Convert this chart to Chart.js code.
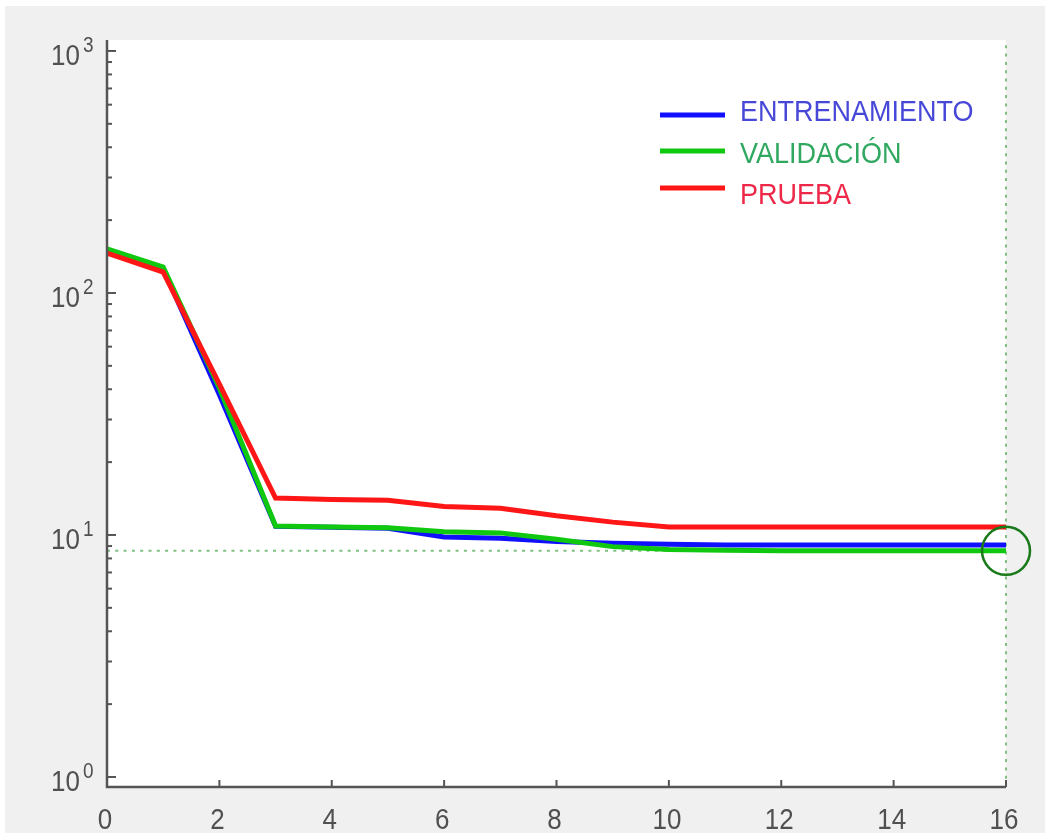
<!DOCTYPE html>
<html>
<head>
<meta charset="utf-8">
<script src="https://cdn.jsdelivr.net/npm/chart.js@4.4.0/dist/chart.umd.min.js"></script>
<style>
body { margin: 0; background: #fff; }
canvas { display: block; }
</style>
</head>
<body>
<canvas id="myChart" width="1045" height="833"></canvas>
<script>
// epochs and performance (log scale)
var epochs = [0, 1, 2, 3, 4, 5, 6, 7, 8, 9, 10, 11, 12, 13, 14, 15, 16];
var entrenamiento = [150, 126, 38, 10.85, 10.75, 10.65, 9.8, 9.7, 9.4, 9.25, 9.15, 9.1, 9.1, 9.1, 9.1, 9.1, 9.1];
var validacion = [152, 128, 40.5, 10.9, 10.8, 10.7, 10.3, 10.2, 9.6, 8.95, 8.7, 8.65, 8.6, 8.6, 8.6, 8.6, 8.6];
var prueba = [146, 122, 42, 14.2, 14.0, 13.9, 13.1, 12.9, 12.0, 11.3, 10.8, 10.8, 10.8, 10.8, 10.8, 10.8, 10.8];
var seriesNames = ['ENTRENAMIENTO', 'VALIDACIÓN', 'PRUEBA'];
var xTicks = [0, 2, 4, 6, 8, 10, 12, 14, 16];
var yDecades = [0, 1, 2, 3];
var bestEpoch = 16;
var bestValue = 8.6;

var yMin = 0.909, yMax = 1110;

function pts(ys) {
    return epochs.map(function (e, i) { return { x: e, y: ys[i] }; });
}

var axisColor = '#555555';
var labelColor = '#505050';
var fontFamily = '"Liberation Sans", Arial, sans-serif';

// text in the reference looks a little stretched vertically
function tallText(c, txt, x, y, size, align) {
    c.save();
    c.translate(x, y);
    c.scale(1, 1.12);
    c.font = size + 'px ' + fontFamily;
    c.textAlign = align;
    c.textBaseline = 'middle';
    c.fillText(txt, 0, 0);
    c.restore();
}

var matlabAxes = {
    id: 'matlabAxes',
    beforeDraw: function (chart) {
        var c = chart.ctx, a = chart.chartArea;
        c.save();
        c.fillStyle = '#ffffff';
        c.fillRect(0, 0, chart.width, chart.height);
        c.fillStyle = '#f0f0f0';
        c.fillRect(5, 6, chart.width - 5, chart.height - 6);
        c.fillStyle = '#ffffff';
        c.fillRect(a.left, a.top, a.right - a.left, a.bottom - a.top);
        c.restore();
    },
    afterDraw: function (chart) {
        var c = chart.ctx, a = chart.chartArea;
        var xs = chart.scales.x, ys = chart.scales.y;
        c.save();
        // axis lines
        c.strokeStyle = axisColor;
        c.lineWidth = 2.5;
        c.beginPath();
        c.moveTo(a.left, a.top);
        c.lineTo(a.left, a.bottom);
        c.lineTo(a.right, a.bottom);
        c.stroke();

        // y ticks, major and minor
        c.lineWidth = 2;
        yDecades.forEach(function (d) {
            for (var m = 1; m <= 9; m++) {
                var v = m * Math.pow(10, d);
                if (v > yMax) break;
                var py = ys.getPixelForValue(v);
                c.beginPath();
                c.moveTo(a.left, py);
                c.lineTo(a.left + (m === 1 ? 9 : 5), py);
                c.stroke();
            }
        });
        // x ticks
        xTicks.forEach(function (t) {
            var px = xs.getPixelForValue(t);
            c.beginPath();
            c.moveTo(px, a.bottom);
            c.lineTo(px, a.bottom - 7);
            c.stroke();
        });

        // labels
        c.fillStyle = labelColor;
        xTicks.forEach(function (t) {
            tallText(c, String(t), xs.getPixelForValue(t) - 2, 821, 26, 'center');
        });
        yDecades.forEach(function (d) {
            var py = ys.getPixelForValue(Math.pow(10, d));
            tallText(c, '10', 80, py + 6, 26, 'right');
            tallText(c, String(d), 83, py - 5, 19, 'left');
        });

        // legend
        var lx = 660, tx = 740;
        var lineY = [115, 151, 188], textY = [113, 155, 196];
        var textColors = ['#4848d8', '#30a860', '#ee2848'];
        chart.data.datasets.slice(0, 3).forEach(function (ds, i) {
            c.strokeStyle = ds.borderColor;
            c.lineWidth = 5;
            c.beginPath();
            c.moveTo(lx, lineY[i]);
            c.lineTo(lx + 65, lineY[i]);
            c.stroke();
            c.fillStyle = textColors[i];
            tallText(c, ds.label, tx, textY[i], 27, 'left');
        });
        c.restore();
    }
};

var ctx = document.getElementById('myChart').getContext('2d');
var myChart = new Chart(ctx, {
    type: 'line',
    data: {
        datasets: [{
            label: seriesNames[0],
            data: pts(entrenamiento),
            borderColor: '#1010ff',
            borderWidth: 5,
            pointRadius: 0,
            order: 3
        }, {
            label: seriesNames[1],
            data: pts(validacion),
            borderColor: '#10c810',
            borderWidth: 5,
            pointRadius: 0,
            order: 2
        }, {
            label: seriesNames[2],
            data: pts(prueba),
            borderColor: '#ff1616',
            borderWidth: 5,
            pointRadius: 0,
            order: 1
        }, {
            label: 'best-h',
            data: [{ x: epochs[0], y: bestValue }, { x: bestEpoch, y: bestValue }],
            borderColor: '#80c080',
            borderWidth: 2,
            borderDash: [3, 5.3],
            pointRadius: 0,
            order: 4
        }, {
            label: 'best-v',
            data: [{ x: bestEpoch, y: yMin }, { x: bestEpoch, y: yMax }],
            borderColor: '#80c080',
            borderWidth: 2,
            borderDash: [3, 5.3],
            pointRadius: 0,
            clip: false,
            order: 4
        }, {
            label: 'best',
            type: 'scatter',
            data: [{ x: bestEpoch, y: bestValue }],
            pointRadius: 24,
            pointBorderWidth: 2.5,
            pointBorderColor: '#1a7a1a',
            pointBackgroundColor: 'rgba(0,0,0,0)',
            clip: false,
            order: 0
        }]
    },
    options: {
        responsive: false,
        animation: false,
        layout: { padding: { left: 107, right: 39, top: 40, bottom: 46 } },
        plugins: {
            legend: { display: false },
            tooltip: { enabled: false }
        },
        scales: {
            x: { type: 'linear', min: 0, max: 16, display: false },
            y: { type: 'logarithmic', min: yMin, max: yMax, display: false }
        }
    },
    plugins: [matlabAxes]
});
</script>
</body>
</html>
